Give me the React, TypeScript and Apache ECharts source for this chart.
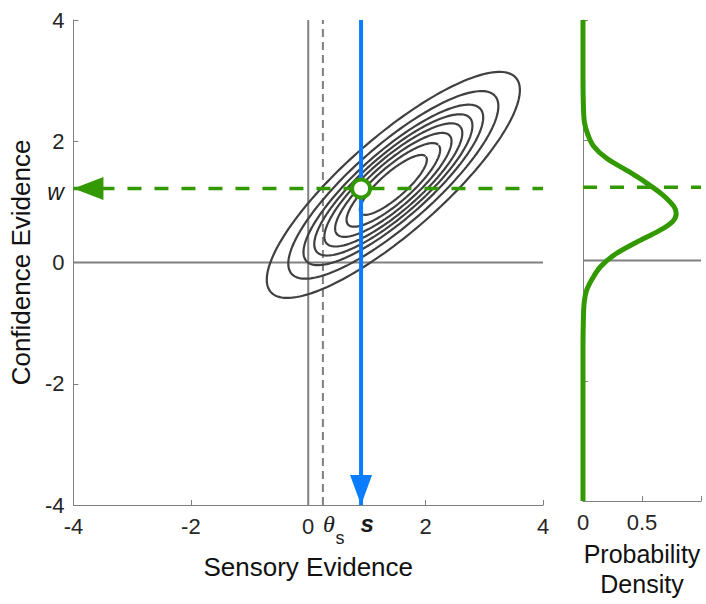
import React, { useEffect, useRef } from "react";
import * as echarts from "echarts";

// ---- data ----
const THETA_S = 0.25; // criterion on sensory evidence
const S_VALUE = 0.9; // observed sensory evidence
const W_VALUE = 1.22; // confidence evidence w
const CONTOUR_CENTER = [1.45, 1.28];
const CONTOUR_MAJOR = [2.09, 1.765]; // half major axis of outermost contour (data units)
const CONTOUR_MINOR = [0.53, -0.6]; // half minor axis of outermost contour (data units)
const CONTOUR_SCALES = [1, 0.83, 0.71, 0.625, 0.545, 0.46, 0.37, 0.265];
const DENSITY_Y = [4, 3, 2.6, 2.3, 2.1, 1.9, 1.7, 1.5, 1.3, 1.1, 0.9, 0.78, 0.65, 0.5, 0.3, 0.1, -0.1, -0.3, -0.5, -0.7, -1.0, -1.4, -4];
const DENSITY_P = [0, 0, 0.003, 0.012, 0.04, 0.09, 0.2, 0.37, 0.53, 0.67, 0.77, 0.79, 0.76, 0.65, 0.45, 0.27, 0.15, 0.08, 0.03, 0.01, 0.003, 0, 0];

const GREEN = "#339900";
const BLUE = "#0a7cff";
const GRAY = "#808080";
const FONT = "'Liberation Sans', Arial, Helvetica, sans-serif";

function ellipsePoints(k: number): number[][] {
  const pts: number[][] = [];
  const n = 180;
  for (let i = 0; i <= n; i++) {
    const t = (2 * Math.PI * i) / n;
    const c = Math.cos(t);
    const s = Math.sin(t);
    pts.push([
      CONTOUR_CENTER[0] + k * (CONTOUR_MAJOR[0] * c + CONTOUR_MINOR[0] * s),
      CONTOUR_CENTER[1] + k * (CONTOUR_MAJOR[1] * c + CONTOUR_MINOR[1] * s),
    ]);
  }
  return pts;
}

export default function App() {
  const ref = useRef<HTMLDivElement>(null);
  useEffect(() => {
    if (!ref.current) return;
    const chart = echarts.init(ref.current, undefined, { renderer: "svg" });
    const axisCommon = {
      type: "value" as const,
      splitLine: { show: false },
      axisLine: { show: true, onZero: false, lineStyle: { color: GRAY, width: 1 } },
      axisTick: { show: true, inside: true, length: 5, lineStyle: { color: GRAY, width: 1 } },
    };
    const plainLine = (xi: number, data: number[][], color: string, width: number, type: any = "solid", z = 2) => ({
      type: "line",
      xAxisIndex: xi,
      yAxisIndex: xi,
      data,
      symbol: "none",
      clip: false,
      silent: true,
      z,
      lineStyle: { color, width, type, cap: "butt", opacity: 1 },
    });
    const contourSeries = CONTOUR_SCALES.map((k) => ({
      type: "line",
      xAxisIndex: 0,
      yAxisIndex: 0,
      data: ellipsePoints(k),
      symbol: "none",
      silent: true,
      z: 3,
      lineStyle: { color: "#404040", width: 2.2 },
    }));
    const textLabel = (x: number, y: number, text: string, offset: number[], style: any) => ({
      type: "scatter",
      xAxisIndex: 0,
      yAxisIndex: 0,
      data: [[x, y]],
      symbolSize: 0,
      silent: true,
      clip: false,
      z: 10,
      itemStyle: { color: "transparent", opacity: 1 },
      label: {
        show: true,
        position: "inside",
        formatter: text,
        offset,
        color: "#1a1a1a",
        opacity: 1,
        align: "center",
        verticalAlign: "middle",
        ...style,
      },
    });
    const marker = (x: number, y: number, extra: any) => ({
      type: "scatter",
      xAxisIndex: 0,
      yAxisIndex: 0,
      data: [[x, y]],
      clip: false,
      silent: true,
      ...extra,
    });

    chart.setOption({
      animation: false,
      backgroundColor: "#ffffff",
      textStyle: { fontFamily: FONT },
      grid: [
        { left: 72, top: 20, width: 471, height: 485 },
        { left: 583, top: 20, width: 118, height: 485 },
      ],
      xAxis: [
        {
          ...axisCommon,
          gridIndex: 0,
          min: -4,
          max: 4,
          interval: 2,
          axisLabel: { fontSize: 22, color: "#262626", margin: 10, fontFamily: FONT },
          name: "Sensory Evidence",
          nameLocation: "middle",
          nameGap: 49,
          nameTextStyle: { fontSize: 26, color: "#111111", fontFamily: FONT },
        },
        {
          ...axisCommon,
          gridIndex: 1,
          min: 0,
          max: 1,
          interval: 0.5,
          axisLabel: {
            fontSize: 22,
            color: "#262626",
            margin: 10,
            fontFamily: FONT,
            formatter: (v: number) => (v === 1 ? "" : String(v)),
          },
          name: "Probability\nDensity",
          nameLocation: "middle",
          nameGap: 38,
          nameTextStyle: { fontSize: 25, lineHeight: 30, color: "#111111", fontFamily: FONT },
        },
      ],
      yAxis: [
        {
          ...axisCommon,
          gridIndex: 0,
          min: -4,
          max: 4,
          interval: 2,
          axisLabel: { fontSize: 22, color: "#262626", margin: 9, fontFamily: FONT },
          name: "Confidence Evidence",
          nameLocation: "middle",
          nameGap: 35,
          nameRotate: 90,
          nameTextStyle: { fontSize: 26, color: "#111111", fontFamily: FONT },
        },
        {
          ...axisCommon,
          gridIndex: 1,
          min: -4,
          max: 4,
          interval: 2,
          axisLabel: { show: false },
        },
      ],
      series: [
        plainLine(0, [[0, -4], [0, 4]], GRAY, 2),
        plainLine(0, [[-4, 0], [4, 0]], GRAY, 2),
        plainLine(0, [[THETA_S, -4], [THETA_S, 4]], GRAY, 2, [8, 5]),
        ...contourSeries,
        plainLine(0, [[-4, W_VALUE], [4, W_VALUE]], GREEN, 3.5, [14, 13], 4),
        plainLine(0, [[S_VALUE, 4], [S_VALUE, -4]], BLUE, 4, "solid", 5),
        marker(S_VALUE, -4, {
          symbol: "triangle",
          symbolSize: [22, 30],
          symbolRotate: 180,
          symbolOffset: [0, -15],
          z: 6,
          itemStyle: { color: BLUE, opacity: 1 },
        }),
        marker(-4, W_VALUE, {
          symbol: "triangle",
          symbolSize: [23, 30],
          symbolRotate: 90,
          symbolOffset: [15, 0],
          z: 6,
          itemStyle: { color: GREEN, opacity: 1 },
        }),
        marker(S_VALUE, W_VALUE, {
          symbol: "circle",
          symbolSize: 18,
          z: 7,
          itemStyle: { color: "#ffffff", borderColor: GREEN, borderWidth: 4, opacity: 1 },
        }),
        textLabel(THETA_S, -4, "θ", [6, 19], { fontSize: 24, fontStyle: "italic", fontFamily: "'Liberation Serif', serif" }),
        textLabel(THETA_S, -4, "s", [17, 33], { fontSize: 18, fontFamily: FONT }),
        textLabel(S_VALUE, -4, "s", [6, 18], { fontSize: 24, fontStyle: "italic", fontWeight: "bold", fontFamily: FONT }),
        textLabel(-4, W_VALUE, "w", [-18, 3], { fontSize: 23, fontStyle: "italic", fontFamily: FONT }),
        // right panel
        plainLine(1, [[0, 0], [1, 0]], GRAY, 2),
        plainLine(1, [[0, W_VALUE], [1, W_VALUE]], GREEN, 3.5, [14, 13], 4),
        {
          type: "line",
          xAxisIndex: 1,
          yAxisIndex: 1,
          data: DENSITY_Y.map((y, i) => [DENSITY_P[i], y]),
          symbol: "none",
          smooth: 0.35,
          clip: false,
          silent: true,
          z: 5,
          lineStyle: { color: GREEN, width: 5 },
        },
      ],
    });
    return () => chart.dispose();
  }, []);
  return (
    <div
      ref={ref}
      style={{ position: "absolute", left: 0, top: 0, width: 706, height: 604, background: "#fff" }}
    />
  );
}
